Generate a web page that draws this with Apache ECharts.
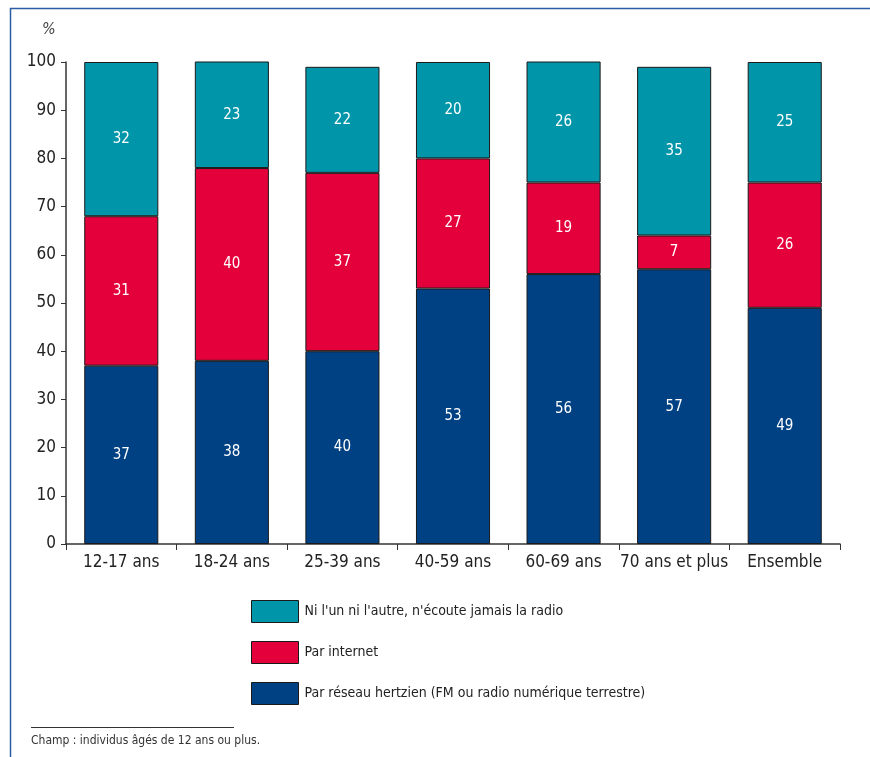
<!DOCTYPE html>
<html>
<head>
<meta charset="utf-8">
<script src="https://cdn.jsdelivr.net/npm/echarts@6/dist/echarts.min.js"></script>
<style>
  html, body { margin: 0; padding: 0; background: #fff; }
  #chart { width: 870px; height: 757px; }
</style>
</head>
<body>
<div id="chart"></div>
<script>
const categories = ['12-17 ans', '18-24 ans', '25-39 ans', '40-59 ans', '60-69 ans', '70 ans et plus', 'Ensemble']
const hertzien = [37, 38, 40, 53, 56, 57, 49]
const internet = [31, 40, 37, 27, 19, 7, 26]
const aucun = [32, 23, 22, 20, 26, 35, 25]
const yTicks = [0, 10, 20, 30, 40, 50, 60, 70, 80, 90, 100]

const nomHertzien = 'Par réseau hertzien (FM ou radio numérique terrestre)'
const nomInternet = 'Par internet'
const nomAucun = "Ni l'un ni l'autre, n'écoute jamais la radio"

const police = "'Liberation Sans Narrow', 'DejaVu Sans Condensed', 'Liberation Sans', sans-serif"

const chart = echarts.init(document.getElementById('chart'))

function serie(name, data, color) {
  return {
    name: name,
    type: 'bar',
    stack: 'total',
    data: data,
    barCategoryGap: '33%',
    itemStyle: { color: color, borderColor: '#1a1a1a', borderWidth: 1 },
    label: {
      show: true,
      position: 'inside',
      color: '#fff',
      fontSize: 15,
      fontFamily: police
    }
  }
}

const option = {
  animation: false,
  textStyle: { fontFamily: police },
  grid: { left: 66, right: 30, top: 62, bottom: 213 },
  legend: {
    orient: 'vertical',
    left: 246,
    top: 595,
    itemWidth: 47,
    itemHeight: 22,
    itemGap: 18,
    icon: 'rect',
    data: [nomAucun, nomInternet, nomHertzien],
    textStyle: { fontSize: 14, color: '#222', fontFamily: police, padding: [0, 0, 0, 1] },
    itemStyle: { borderColor: '#1a1a1a', borderWidth: 1 }
  },
  xAxis: {
    type: 'category',
    data: categories,
    axisLine: { lineStyle: { color: '#333', width: 1.5 } },
    axisTick: { show: true, length: 6, interval: 0, lineStyle: { color: '#333' } },
    axisLabel: { interval: 0, fontSize: 17, color: '#222', margin: 10, fontFamily: police }
  },
  yAxis: {
    type: 'value',
    min: yTicks[0],
    max: yTicks[yTicks.length - 1],
    interval: 10,
    splitLine: { show: false },
    axisLine: { show: true, lineStyle: { color: '#333', width: 1.5 } },
    axisTick: { show: true, length: 5, lineStyle: { color: '#333' } },
    axisLabel: { fontSize: 17, color: '#222', margin: 10, fontFamily: police }
  },
  graphic: [
    { type: 'line', shape: { x1: 10, y1: 8.5, x2: 870, y2: 8.5 }, style: { stroke: '#2a5ba3', lineWidth: 1.5 } },
    { type: 'line', shape: { x1: 10.5, y1: 8, x2: 10.5, y2: 757 }, style: { stroke: '#2a5ba3', lineWidth: 1.5 } },
    { type: 'text', left: 42, top: 22, style: { text: '%', fontSize: 16, fontStyle: 'italic', fill: '#444', fontFamily: police } },
    { type: 'line', shape: { x1: 31, y1: 727.5, x2: 234, y2: 727.5 }, style: { stroke: '#333', lineWidth: 1 } },
    { type: 'text', left: 31, top: 735, style: { text: 'Champ : individus âgés de 12 ans ou plus.', fontSize: 12, fill: '#333', fontFamily: police } }
  ],
  series: [
    serie(nomHertzien, hertzien, '#004183'),
    serie(nomInternet, internet, '#e4003b'),
    serie(nomAucun, aucun, '#0095a9')
  ]
}

chart.setOption(option)
</script>
</body>
</html>
